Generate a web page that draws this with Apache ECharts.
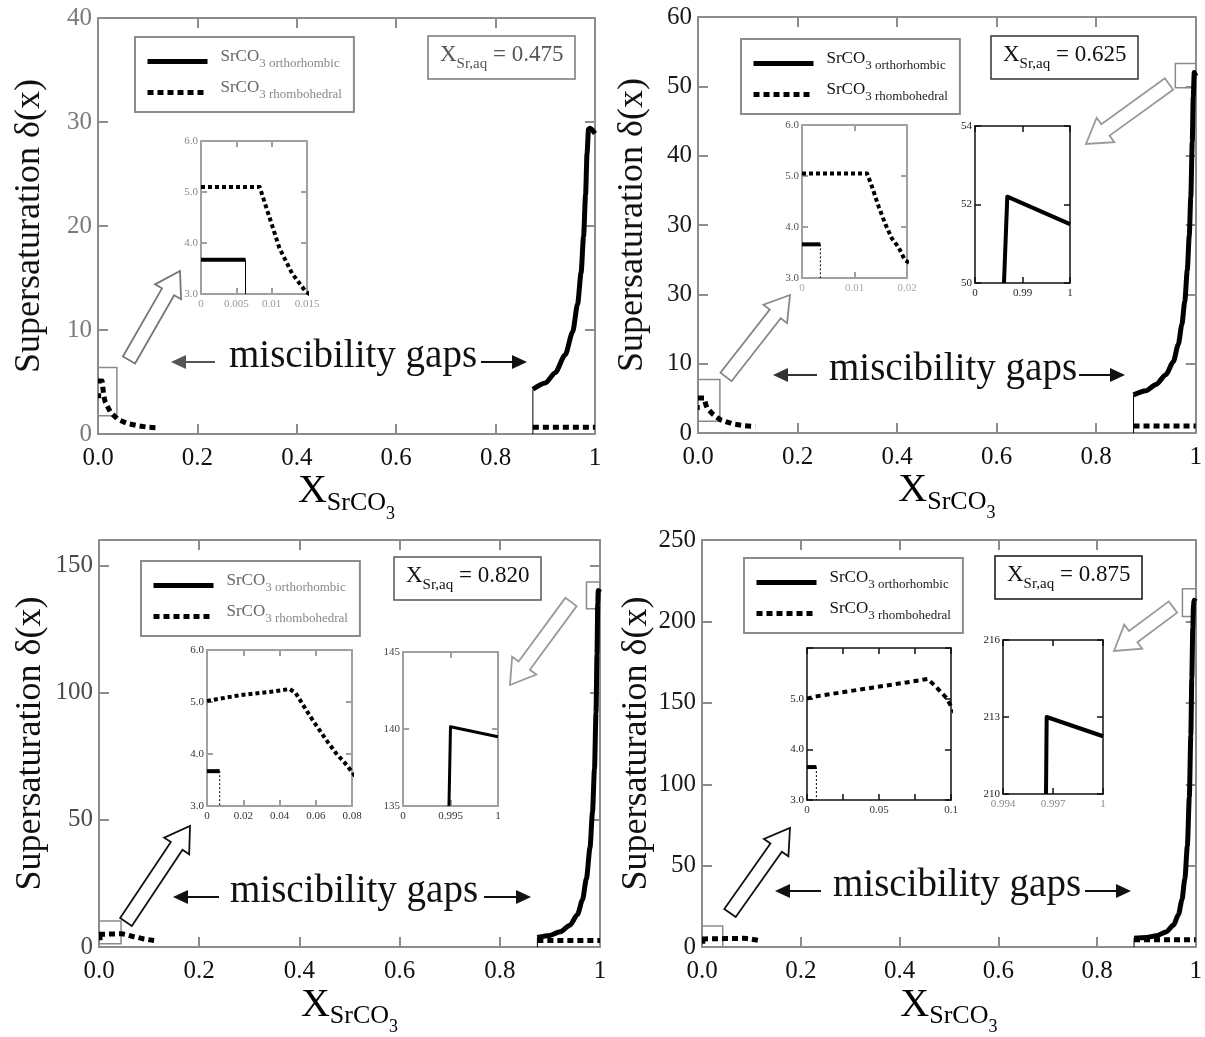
<!DOCTYPE html>
<html>
<head>
<meta charset="utf-8">
<script src="https://cdn.jsdelivr.net/npm/echarts@6/dist/echarts.min.js"></script>
<style>
  html, body { margin: 0; padding: 0; background: #fff; }
  #main { width: 1205px; height: 1037px; }
</style>
</head>
<body>
<div id="main"></div>
<script>
const FONT = '"Liberation Serif", "DejaVu Serif", serif';

// ---------- X_Sr,aq = 0.475 ----------
const p1Ortho = [[0.875, 4.3], [0.9, 4.9], [0.92, 5.9], [0.94, 7.6], [0.955, 9.8], [0.965, 12.5], [0.972, 15.5], [0.977, 19], [0.981, 23], [0.984, 27], [0.987, 29.3], [0.99, 29.4], [1, 28.9]];
const p1OrthoLeft = [[0, 3.67], [0.0063, 3.67]];
const p1OrthoDrop = [[0.0063, 3.67], [0.0063, 3]];
const p1Rhombo = [[0, 5.1], [0.0083, 5.1], [0.0097, 4.5], [0.0111, 3.9], [0.0129, 3.4], [0.0148, 3.05], [0.025, 2.1], [0.04, 1.4], [0.06, 1.0], [0.08, 0.8], [0.1, 0.65], [0.12, 0.6]];
const p1RhomboRight = [[0.875, 0.64], [1, 0.64]];
const p1Edge = [[0.875, 0], [0.875, 4.3]];
const p1Boxes = [[[0, 1.75], [0.038, 6.4]]];

// ---------- X_Sr,aq = 0.625 ----------
const p2Ortho = [[0.875, 5.5], [0.9, 6.1], [0.92, 7.0], [0.94, 8.4], [0.955, 10.3], [0.965, 12.8], [0.972, 15.6], [0.978, 19], [0.983, 23.5], [0.987, 28.5], [0.99, 34], [0.993, 42], [0.995, 48.5], [0.997, 52], [1, 51.5]];
const p2OrthoLeft = [[0, 3.66], [0.0035, 3.66]];
const p2OrthoDrop = [[0.0035, 3.66], [0.0035, 3]];
const p2Rhombo = [[0, 5.05], [0.0124, 5.05], [0.0133, 4.8], [0.0146, 4.4], [0.0159, 4.05], [0.0171, 3.78], [0.0184, 3.6], [0.0196, 3.35], [0.03, 2.7], [0.045, 1.9], [0.07, 1.3], [0.093, 1.05], [0.115, 0.95]];
const p2RhomboRight = [[0.875, 1.0], [1, 1.0]];
const p2Edge = [[0.875, 0], [0.875, 5.5]];
const p2Peak = [[0.9861, 50], [0.9868, 52.2], [1, 51.5]];
const p2Boxes = [[[0, 1.7], [0.044, 7.7]], [[0.959, 49.8], [1, 53.3]]];

// ---------- X_Sr,aq = 0.820 ----------
const p3Ortho = [[0.875, 3.8], [0.9, 4.6], [0.92, 6.0], [0.94, 8.6], [0.955, 12.8], [0.965, 18.5], [0.973, 27], [0.98, 39], [0.985, 53], [0.989, 70], [0.992, 92], [0.994, 115], [0.9955, 135], [0.9965, 140.2], [1, 139.5]];
const p3OrthoLeft = [[0, 3.67], [0.007, 3.67]];
const p3OrthoDrop = [[0.007, 3.67], [0.007, 3]];
const p3Rhombo = [[0, 5.02], [0.018, 5.13], [0.036, 5.2], [0.0456, 5.25], [0.049, 5.17], [0.052, 5.0], [0.057, 4.72], [0.0658, 4.27], [0.0713, 4.01], [0.077, 3.79], [0.09, 3.2], [0.11, 2.6]];
const p3RhomboRight = [[0.875, 2.6], [1, 2.6]];
const p3Edge = [[0.875, 0], [0.875, 3.8]];
const p3Peak = [[0.99484, 135], [0.995, 140.15], [1, 139.5]];
const p3Boxes = [[[0, 1.3], [0.044, 10.3]], [[0.973, 133], [1, 143.5]]];

// ---------- X_Sr,aq = 0.875 ----------
const p4Ortho = [[0.875, 5.5], [0.9, 5.9], [0.92, 6.9], [0.94, 9.3], [0.955, 13.5], [0.965, 20], [0.972, 29], [0.978, 42], [0.983, 62], [0.987, 92], [0.99, 130], [0.992, 165], [0.994, 196], [0.9955, 210], [0.9966, 213], [1, 212.2]];
const p4OrthoLeft = [[0, 3.65], [0.0065, 3.65]];
const p4OrthoDrop = [[0.0065, 3.65], [0.0065, 3]];
const p4Rhombo = [[0, 5.0], [0.005, 5.04], [0.023, 5.12], [0.046, 5.22], [0.069, 5.32], [0.084, 5.39], [0.09, 5.22], [0.097, 5.01], [0.12, 3.8]];
const p4RhomboRight = [[0.875, 4.5], [1, 4.5]];
const p4Edge = [[0.875, 0], [0.875, 5.5]];
const p4Peak = [[0.99658, 210], [0.99662, 213], [1, 212.25]];
const p4Boxes = [[[0, 0], [0.042, 13]], [[0.973, 203], [1, 220]]];

const aqLabels = ['0.475', '0.625', '0.820', '0.875'];

// ---------- helpers ----------
const grid = [], xAxis = [], yAxis = [], series = [], legend = [], title = [], graphic = [];

const MAIN = { color: '#8c8c8c', width: 2, tick: 10, font: 25 };
const IN_GRAY = { color: '#a0a0a0', width: 2, tick: 6, font: 11 };
const IN_BLACK = { color: '#111', width: 1.5, tick: 6, font: 11 };

const xName = {
  x: { fontSize: 40, lineHeight: 40, padding: [0, 0, 11, 0], verticalAlign: 'bottom', fontFamily: FONT, color: '#000' },
  s: { fontSize: 26, lineHeight: 26, padding: [0, 0, 7, 0], verticalAlign: 'bottom', fontFamily: FONT, color: '#000' },
  t: { fontSize: 18, lineHeight: 18, verticalAlign: 'bottom', fontFamily: FONT, color: '#000' }
};

function frame(rect, xs, ys, st, labelColor) {
  const gi = grid.length;
  grid.push({ left: rect[0], top: rect[1], width: rect[2], height: rect[3], show: true, backgroundColor: '#fff', borderWidth: 0 });
  const axisLine = { show: true, onZero: false, lineStyle: { color: st.color, width: st.width } };
  const tick = (cv) => ({ show: true, inside: true, length: st.tick, customValues: cv, lineStyle: { color: st.color, width: st.width } });
  const base = { type: 'value', gridIndex: gi, axisLine: axisLine, splitLine: { show: false } };
  const xi = xAxis.length, yi = yAxis.length;
  xAxis.push(Object.assign({}, base, {
    position: 'bottom', min: xs.min, max: xs.max, interval: xs.interval,
    axisTick: tick(xs.custom),
    axisLabel: { fontFamily: FONT, fontSize: st.font, color: xs.color || labelColor, margin: xs.margin || 5, formatter: xs.fmt, customValues: xs.custom },
    name: xs.name, nameLocation: 'middle', nameGap: xs.nameGap, nameTextStyle: { rich: xName }
  }));
  xAxis.push(Object.assign({}, base, {
    position: 'top', min: xs.min, max: xs.max, interval: xs.interval,
    axisTick: tick(xs.custom), axisLabel: { show: false }
  }));
  yAxis.push(Object.assign({}, base, {
    position: 'left', min: ys.min, max: ys.max, interval: ys.interval,
    axisTick: tick(ys.custom),
    axisLabel: { fontFamily: FONT, fontSize: st.font, color: labelColor, margin: ys.margin || 3, formatter: ys.fmt, showMaxLabel: ys.showMax !== false },
    name: ys.name, nameLocation: 'middle', nameGap: ys.nameGap,
    nameTextStyle: { fontFamily: FONT, fontSize: 36, color: '#111' }
  }));
  yAxis.push(Object.assign({}, base, {
    position: 'right', min: ys.min, max: ys.max, interval: ys.interval,
    axisTick: tick(ys.custom), axisLabel: { show: false }
  }));
  return { x: xi, y: yi };
}

function addLine(name, data, ax, ls, extra) {
  series.push(Object.assign({
    name: name, type: 'line', data: data, xAxisIndex: ax.x, yAxisIndex: ax.y,
    symbol: 'none', showSymbol: false, silent: true, animation: false, z: 3,
    itemStyle: { color: '#000' },
    lineStyle: Object.assign({ color: '#000', cap: 'butt', join: 'round' }, ls)
  }, extra || {}));
}

function boxes(list) {
  return {
    silent: true,
    itemStyle: { color: 'rgba(0,0,0,0)', borderColor: '#8a8a8a', borderWidth: 1.5 },
    data: list.map(b => [{ coord: b[0] }, { coord: b[1] }])
  };
}

const mainX = v => v === 0 ? '0.0' : (v === 1 ? '1' : v.toFixed(1));
const f1 = v => v.toFixed(1);
const plain = v => String(+v.toFixed(4));

function mainPanel(i, rect, ymax, yint, yfmt, labelColor, ortho, rhombo, rhomboRight, edge, boxList, nameGaps) {
  const ax = frame(rect,
    { min: 0, max: 1, interval: 0.2, fmt: mainX, color: '#111', margin: 12, name: '{x|X}{s|SrCO}{t|3}', nameGap: nameGaps[0] },
    { min: 0, max: ymax, interval: yint, fmt: yfmt, margin: 6, name: 'Supersaturation δ(x)', nameGap: nameGaps[1], showMax: ymax % yint === 0 },
    MAIN, labelColor);
  addLine('ortho-' + i, ortho, ax, { width: 5, type: 'solid' }, { smooth: 0.25, smoothMonotone: 'x' });
  addLine('rhombo-' + i, rhombo, ax, { width: 5, type: [6, 4] });
  addLine('rhombo-' + i, rhomboRight, ax, { width: 5, type: [6, 4] });
  addLine('edge-' + i, edge, ax, { width: 1, type: 'solid' }, { markArea: boxes(boxList) });
  return ax;
}

// ---------- panel 1 ----------
const a1 = mainPanel(1, [98, 18, 497, 416], 40, 10, v => v, '#7a7a7a', p1Ortho, p1Rhombo, p1RhomboRight, p1Edge, p1Boxes, [42, 50]);
addLine('ortho-1', p1OrthoLeft, a1, { width: 5 });
const i1 = frame([201, 141, 106, 153],
  { min: 0, max: 0.015, interval: 0.005, fmt: plain, color: '#9a9a9a' },
  { min: 3, max: 6, interval: 1, fmt: f1 }, IN_GRAY, '#8a8a8a');
addLine('rhombo-1', p1Rhombo, i1, { width: 4, type: [4, 3] });
addLine('ortho-1', p1OrthoLeft, i1, { width: 4 });
addLine('drop-1', p1OrthoDrop, i1, { width: 1 });

// ---------- panel 2 ----------
const a2 = mainPanel(2, [698, 17, 498, 416], 60, 10, v => v === 20 ? '30' : v, '#1a1a1a', p2Ortho, p2Rhombo, p2RhomboRight, p2Edge, p2Boxes, [32, 47]);
addLine('ortho-2', p2OrthoLeft, a2, { width: 5 });
const i2 = frame([802, 125, 105, 153],
  { min: 0, max: 0.02, interval: 0.01, fmt: plain, color: '#a8a8a8' },
  { min: 3, max: 6, interval: 1, fmt: f1 }, IN_GRAY, '#555');
addLine('rhombo-2', p2Rhombo, i2, { width: 4, type: [4, 3] });
addLine('ortho-2', p2OrthoLeft, i2, { width: 4 });
addLine('drop-2', p2OrthoDrop, i2, { width: 1, type: [2, 2] });
const j2 = frame([975, 126, 95, 157],
  { min: 0.98, max: 1, interval: 0.01, fmt: v => v < 0.985 ? '0' : plain(v), color: '#222' },
  { min: 50, max: 54, interval: 2, fmt: v => v }, IN_BLACK, '#222');
addLine('peak-2', p2Peak, j2, { width: 4 });

// ---------- panel 3 ----------
const a3 = mainPanel(3, [99, 540, 501, 415], 160, 50, v => v > 155 ? '' : v, '#4a4a4a', p3Ortho, p3Rhombo, p3RhomboRight, p3Edge, p3Boxes, [44, 50]);
addLine('ortho-3', p3OrthoLeft, a3, { width: 5 });
const i3 = frame([207, 650, 145, 156],
  { min: 0, max: 0.08, interval: 0.02, fmt: plain, color: '#333' },
  { min: 3, max: 6, interval: 1, fmt: f1 }, IN_GRAY, '#333');
addLine('rhombo-3', p3Rhombo, i3, { width: 4, type: [4, 3] });
addLine('ortho-3', p3OrthoLeft, i3, { width: 4 });
addLine('drop-3', p3OrthoDrop, i3, { width: 1, type: [2, 2] });
const j3 = frame([403, 652, 95, 154],
  { min: 0.99, max: 1, interval: 0.005, fmt: v => v < 0.9925 ? '0' : plain(v), color: '#333' },
  { min: 135, max: 145, interval: 5, fmt: v => v }, IN_GRAY, '#444');
addLine('peak-3', p3Peak, j3, { width: 3 });

// ---------- panel 4 ----------
const a4 = mainPanel(4, [702, 540, 498, 410], 250, 50, v => v, '#1a1a1a', p4Ortho, p4Rhombo, p4RhomboRight, p4Edge, p4Boxes, [48, 47]);
addLine('ortho-4', p4OrthoLeft, a4, { width: 5 });
const i4 = frame([807, 648, 144, 152],
  { min: 0, max: 0.1, interval: 0.025, fmt: v => (Math.round(v * 1000) % 50 === 0 ? plain(v) : ''), color: '#333' },
  { min: 3, max: 6, interval: 1, fmt: v => v > 5.5 ? '' : v.toFixed(1) }, IN_BLACK, '#222');
addLine('rhombo-4', p4Rhombo, i4, { width: 4, type: [5, 4] });
addLine('ortho-4', p4OrthoLeft, i4, { width: 4 });
addLine('drop-4', p4OrthoDrop, i4, { width: 1, type: [2, 2] });
const j4 = frame([1003, 640, 100, 154],
  { min: 0.994, max: 1, custom: [0.994, 0.997, 1], fmt: plain, color: '#8a8a8a' },
  { min: 210, max: 216, interval: 3, fmt: v => v }, IN_BLACK, '#222');
addLine('peak-4', p4Peak, j4, { width: 4 });

// ---------- legends ----------
function legendBox(i, left, top, main, sub) {
  legend.push({
    left: left, top: top, orient: 'vertical', selectedMode: false,
    data: [
      { name: 'ortho-' + i, lineStyle: { width: 5, type: 'solid', color: '#000' } },
      { name: 'rhombo-' + i, lineStyle: { width: 5, type: [6, 4], color: '#000' } }
    ],
    itemWidth: 60, itemHeight: 14, itemGap: 9,
    padding: [11, 12, 11, 10],
    itemStyle: { opacity: 0 },
    borderColor: '#8c8c8c', borderWidth: 2, backgroundColor: '#fff',
    formatter: n => n.indexOf('ortho') === 0 ? '{a|SrCO}{b|3 orthorhombic}' : '{a|SrCO}{b|3 rhombohedral}',
    textStyle: {
      rich: {
        a: { fontFamily: FONT, fontSize: 17, lineHeight: 17, padding: [0, 0, 5, 8], verticalAlign: 'bottom', color: main },
        b: { fontFamily: FONT, fontSize: 13, lineHeight: 13, verticalAlign: 'bottom', color: sub }
      }
    }
  });
}
legendBox(1, 135, 37, '#666', '#888');
legendBox(2, 741, 39, '#111', '#222');
legendBox(3, 141, 561, '#666', '#888');
legendBox(4, 744, 558, '#111', '#222');

// ---------- X_Sr,aq boxes ----------
function aqBox(k, left, top, color, border) {
  title.push({
    left: left, top: top, padding: [7, 12, 7, 12],
    borderColor: border, borderWidth: 1.5, backgroundColor: '#fff',
    text: '{x|X}{s|Sr,aq}{x| = ' + aqLabels[k] + '}',
    textStyle: {
      fontWeight: 'normal',
      rich: {
        x: { fontFamily: FONT, fontSize: 23, lineHeight: 23, fontWeight: 'normal', padding: [0, 0, 6, 0], verticalAlign: 'bottom', color: color },
        s: { fontFamily: FONT, fontSize: 15, lineHeight: 15, fontWeight: 'normal', verticalAlign: 'bottom', color: color }
      }
    }
  });
}
aqBox(0, 428, 42, '#555', '#777');
aqBox(1, 991, 42, '#111', '#333');
aqBox(2, 394, 563, '#111', '#555');
aqBox(3, 995, 562, '#111', '#111');

// ---------- annotations ----------
function gapNote(textX, ay, l1, l2, r1, r2, leftColor) {
  graphic.push({ type: 'text', x: textX, y: ay - 5, style: { text: 'miscibility gaps', font: '39px ' + FONT, fill: '#111', textAlign: 'left', textVerticalAlign: 'middle' } });
  graphic.push({ type: 'line', shape: { x1: l2, y1: ay, x2: l1 + 12, y2: ay }, style: { stroke: leftColor, lineWidth: 2 } });
  graphic.push({ type: 'polygon', shape: { points: [[l1, ay], [l1 + 15, ay - 7], [l1 + 15, ay + 7]] }, style: { fill: leftColor } });
  graphic.push({ type: 'line', shape: { x1: r1, y1: ay, x2: r2 - 12, y2: ay }, style: { stroke: '#111', lineWidth: 2 } });
  graphic.push({ type: 'polygon', shape: { points: [[r2, ay], [r2 - 15, ay - 7], [r2 - 15, ay + 7]] }, style: { fill: '#111' } });
}
gapNote(229, 362, 171, 215, 481, 527, '#555');
gapNote(829, 375, 773, 817, 1079, 1125, '#333');
gapNote(230, 897, 173, 219, 484, 531, '#111');
gapNote(833, 891, 775, 821, 1085, 1131, '#111');

function blockArrow(x1, y1, x2, y2, stroke) {
  const dx = x2 - x1, dy = y2 - y1, len = Math.hypot(dx, dy);
  const ux = dx / len, uy = dy / len, nx = -uy, ny = ux;
  const w = 7, h = 15, L = 24;
  const bx = x2 - ux * L, by = y2 - uy * L;
  const pts = [
    [x1 + nx * w, y1 + ny * w], [bx + nx * w, by + ny * w], [bx + nx * h, by + ny * h],
    [x2, y2], [bx - nx * h, by - ny * h], [bx - nx * w, by - ny * w], [x1 - nx * w, y1 - ny * w]
  ];
  graphic.push({ type: 'polygon', shape: { points: pts }, style: { fill: '#fff', stroke: stroke, lineWidth: 1.8 }, z: 10 });
}
blockArrow(129, 360, 180, 271, '#777');
blockArrow(726, 377, 790, 295, '#888');
blockArrow(1169, 84, 1086, 144, '#999');
blockArrow(126, 922, 190, 826, '#111');
blockArrow(571, 602, 510, 685, '#999');
blockArrow(730, 913, 790, 828, '#111');
blockArrow(1173, 607, 1114, 651, '#999');

const chart = echarts.init(document.getElementById('main'));
chart.setOption({
  animation: false,
  backgroundColor: '#fff',
  textStyle: { fontFamily: FONT },
  grid: grid, xAxis: xAxis, yAxis: yAxis,
  legend: legend, title: title, graphic: graphic,
  series: series
});
</script>
</body>
</html>
